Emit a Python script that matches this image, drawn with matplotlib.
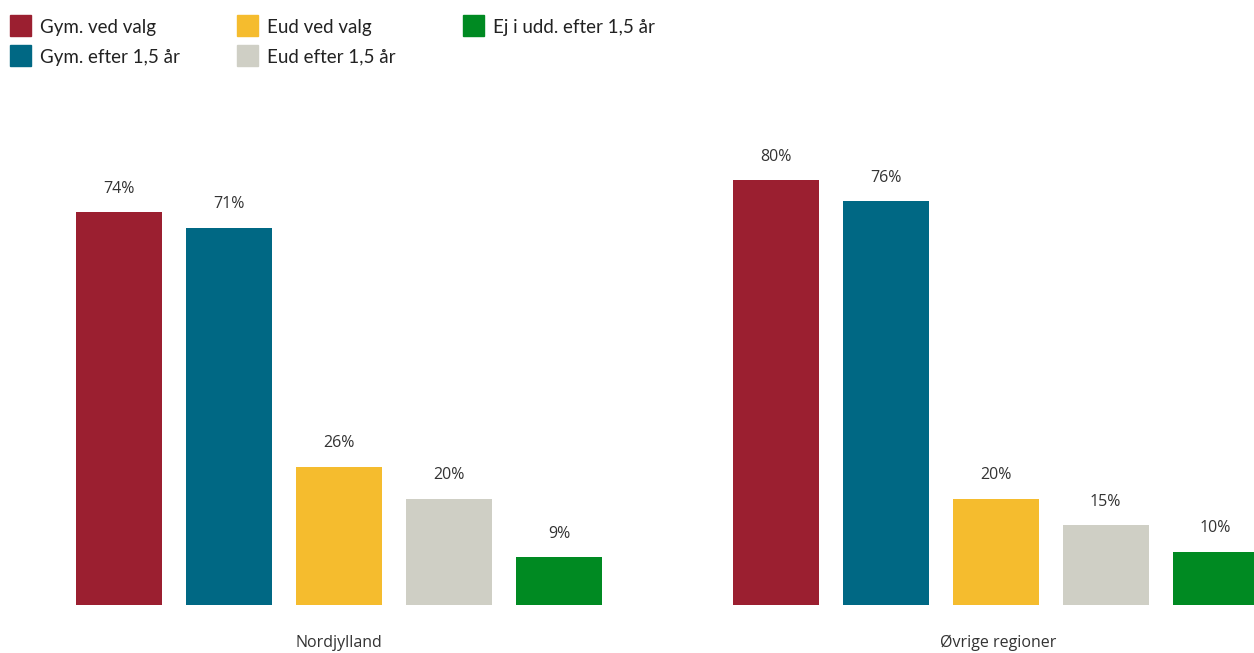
import matplotlib
matplotlib.use("Agg")
import matplotlib.pyplot as plt
from matplotlib.patches import Rectangle

# Data
groups = ["Nordjylland", "Øvrige regioner"]
series = ["Gym. ved valg", "Gym. efter 1,5 år", "Eud ved valg", "Eud efter 1,5 år", "Ej i udd. efter 1,5 år"]
nordjylland = [74, 71, 26, 20, 9]
oevrige = [80, 76, 20, 15, 10]
colors = ["#9B1F30", "#006884", "#F5BC2E", "#CFCFC5", "#008A22"]

plt.rcParams["font.family"] = ["Lato", "DejaVu Sans"]

fig = plt.figure(figsize=(12.54, 6.53), dpi=100)
ax = fig.add_axes([0, 0, 1, 1])

group_offset = 5.97
bar_w = 0.78
for g, vals in enumerate([nordjylland, oevrige]):
    for i, v in enumerate(vals):
        x = g * group_offset + i
        ax.bar(x, v, width=bar_w, color=colors[i], zorder=2)
        ax.text(x, v + 2.9, f"{v}%", ha="center", va="bottom", fontsize=11.5,
                color="#333333", family=["Open Sans", "DejaVu Sans"])
    ax.text(g * group_offset + 2 + 0.02 * g, -7.2, groups[g], ha="center", va="center",
            fontsize=11.5, color="#333333", family=["Open Sans", "DejaVu Sans"])

ax.set_xlim(-1.082, 10.318)
ax.set_ylim(-9.04, 113.9)
ax.axis("off")

# Legend laid out in figure pixels
W, H = 1254, 653
leg_cols = [10, 237, 463]
leg_rows = [15, 45]
for k, name in enumerate(series):
    col = k // 2
    row = k % 2
    x0, y0 = leg_cols[col], leg_rows[row]
    fig.patches.append(Rectangle((x0 / W, 1 - (y0 + 21) / H), 21 / W, 21 / H,
                                 transform=fig.transFigure, color=colors[k]))
    fig.text((x0 + 30) / W, 1 - (y0 + 12) / H, name, ha="left", va="center",
             fontsize=13.5, color="#222222")

fig.savefig("out.png", dpi=100)
